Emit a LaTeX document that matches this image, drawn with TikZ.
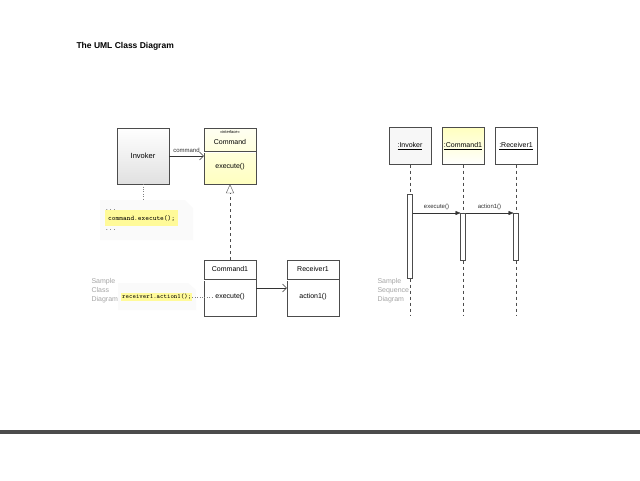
\documentclass[tikz,border=0pt]{standalone}
\usepackage{fontspec}
\setmainfont{Liberation Sans}
\usetikzlibrary{arrows.meta,positioning}
\tikzset{
  cls/.style={draw=black!70,minimum width=52pt,minimum height=56pt,inner sep=0pt},
  life/.style={draw=black!70,fill=white,minimum width=42pt,minimum height=37pt,inner sep=0pt,font=\fontsize{7}{8}\selectfont},
  act/.style={draw=black!70,fill=white,minimum width=5pt,inner sep=0pt},
  hl/.style={fill=yellow!40,inner sep=1pt},
  small/.style={font=\fontsize{7}{8}\selectfont},
  faint/.style={text=black!35,font=\fontsize{7}{9}\selectfont,align=left}
}
\begin{document}
\begin{tikzpicture}[x=1pt,y=-1pt]
  \useasboundingbox (0,0) rectangle (640,480);
  \fill[white] (0,0) rectangle (640,480);
  \fill[black!70] (0,430) rectangle (640,434);
  \node[anchor=west,font=\bfseries\fontsize{8.5}{10}\selectfont] (title) at (73,46) {The UML Class Diagram};
  % class diagram
  \node[cls,top color=white,bottom color=black!12,font=\fontsize{7.5}{9}\selectfont] (inv) at (143,156) {Invoker};
  \node[cls,top color=yellow!5,bottom color=yellow!25] (cmd) at (230,156) {};
  \draw[black!70,double,double distance=1pt] (204,152) -- (256,152);
  \node[font=\fontsize{4}{5}\selectfont] (cst) at (230,132) {«interface»};
  \node[small] (cname) at (230,142) {Command};
  \node[small] (cexe) at (230,167) {execute()};
  \node[cls] (cmd1) at (230,288) {};
  \draw[black!70,double,double distance=1pt] (204,280) -- (256,280);
  \node[small] (c1name) at (230,269) {Command1};
  \node[small] (c1exe) at (230,297) {execute()};
  \node[cls] (rcv) at (313,288) {};
  \draw[black!70,double,double distance=1pt] (287,280) -- (339,280);
  \node[small] (rname) at (313,269) {Receiver1};
  \node[small] (ract) at (313,297) {action1()};
  \draw[-{Straight Barb[length=4pt]},black!80] (inv) -- node[above,font=\fontsize{6}{7}\selectfont] {command} (cmd);
  \draw[dashed,black!70,-{Triangle[open,length=9pt,width=8pt]}] (cmd1) -- (cmd);
  \draw[-{Straight Barb[length=4pt]},black!80] (cmd1) -- (rcv);
  % notes
  \fill[black!2] (100,200) -- (185,200) -- (193,208) -- (193,240) -- (100,240) -- cycle;
  \node[anchor=west,font=\ttfamily\fontsize{7}{10}\selectfont,align=left,inner sep=1pt] (note1) at (104,220)
    {...\\\colorbox{yellow!40}{\strut command.execute();}\\...};
  \draw[dotted,black!50] (inv) -- (143,200);
  \fill[black!2] (118,283) -- (188,283) -- (196,290) -- (196,310) -- (118,310) -- cycle;
  \node[hl,anchor=west,font=\ttfamily\fontsize{6.5}{8}\selectfont] (note2) at (121,297) {receiver1.action1();};
  \draw[dotted,black!50] (note2) -- (c1exe);
  \node[faint,anchor=north west] (lbl1) at (88,275) {Sample\\Class\\Diagram};
  % sequence diagram
  \node[life,fill=black!3] (sinv) at (410,146) {\underline{:Invoker}};
  \node[life,top color=yellow!25,bottom color=white] (scmd) at (463,146) {\underline{:Command1}};
  \node[life] (srcv) at (516,146) {\underline{:Receiver1}};
  \foreach \n/\x in {sinv/410,scmd/463,srcv/516}
    \draw[dashed,black!70] (\n) -- (\x,316);
  \node[act,minimum height=84pt] (ainv) at (410,236) {};
  \node[act,minimum height=47pt] (acmd) at (463,236.5) {};
  \node[act,minimum height=47pt] (arcv) at (516,236.5) {};
  \draw[black!80,-{Triangle[length=5pt,width=4pt]}] (412.5,213) -- node[above,font=\fontsize{6}{7}\selectfont] {execute()} (460.5,213);
  \draw[black!80,-{Triangle[length=5pt,width=4pt]}] (465.5,213) -- node[above,font=\fontsize{6}{7}\selectfont] {action1()} (513.5,213);
  \node[faint,anchor=north west] (lbl2) at (374,275) {Sample\\Sequence\\Diagram};
\end{tikzpicture}
\end{document}
